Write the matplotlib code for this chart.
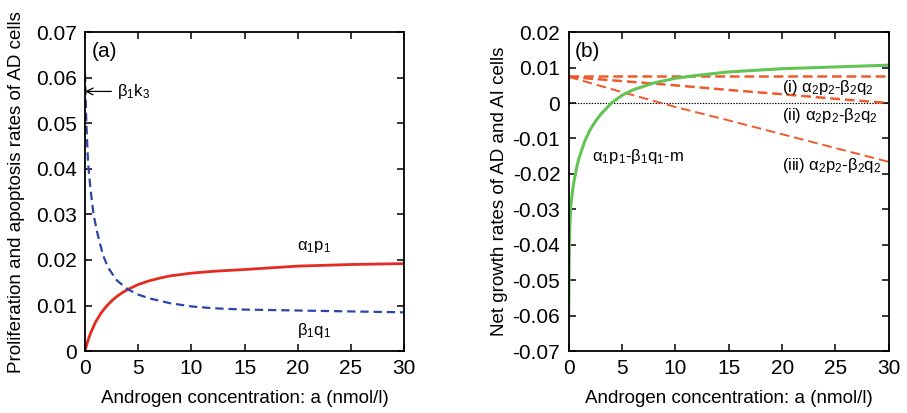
import matplotlib
matplotlib.use("Agg")
import matplotlib.pyplot as plt

plt.rcParams["font.family"] = ["Liberation Sans", "DejaVu Sans"]
plt.rcParams["mathtext.fontset"] = "custom"
plt.rcParams["mathtext.rm"] = "Liberation Sans"
plt.rcParams["mathtext.it"] = "Liberation Sans"
plt.rcParams["mathtext.default"] = "regular"
plt.rcParams["lines.scale_dashes"] = False

# panel (a): proliferation and apoptosis rates of AD cells
a_red = [0, 0.25, 0.5, 1, 1.5, 2, 2.5, 3, 3.5, 4, 5, 6, 7, 8, 10, 12, 15,
         20, 25, 30]
prolif = [0, 0.0021, 0.0038, 0.0064, 0.0083, 0.0098, 0.0110, 0.0120, 0.0128,
          0.0135, 0.0146, 0.0154, 0.0160, 0.0165, 0.0171, 0.0175, 0.0179,
          0.01865, 0.0190, 0.0192]
a_blue = [0, 0.05, 0.1, 0.2, 0.3, 0.5, 0.8, 1.2, 1.7, 2.2, 3, 4, 5, 6, 8, 10,
          12, 15, 20, 25, 30]
apopt = [0.061, 0.057, 0.052, 0.046, 0.041, 0.036, 0.030, 0.0255, 0.0210,
         0.0182, 0.0155, 0.0136, 0.0124, 0.0116, 0.0105, 0.0098, 0.0094,
         0.0091, 0.0089, 0.0087, 0.0085]

# panel (b): net growth rates of AD and AI cells
a_green = [0, 0.03, 0.06, 0.1, 0.2, 0.35, 0.5, 0.8, 1, 1.5, 2, 2.5, 3, 4, 5,
           6, 8, 10, 12, 15, 20, 25, 30]
net_ad = [-0.0605, -0.050, -0.041, -0.035, -0.029, -0.025, -0.022, -0.0175,
          -0.0152, -0.0108, -0.0076, -0.0052, -0.0032, 0.0000, 0.0022,
          0.0037, 0.0057, 0.0070, 0.0078, 0.0088, 0.0097, 0.0102, 0.0107]
a_ai = [0, 5, 10, 15, 20, 25, 30]
net_ai_1 = [0.0075, 0.0075, 0.0075, 0.0075, 0.0075, 0.0075, 0.0075]
net_ai_2 = [0.0074, 0.0062, 0.0050, 0.0037, 0.0025, 0.0012, 0.0]
net_ai_3 = [0.0074, 0.0031, -0.0011, -0.0049, -0.0088, -0.0127, -0.0166]

RED = "#e32b22"
BLUE = "#2b45a8"
GREEN = "#62c453"
ORANGE = "#ef5a2c"

fig = plt.figure(figsize=(9.07, 4.13), dpi=100)
ax1 = fig.add_axes([0.0937, 0.150, 0.352, 0.772])
ax2 = fig.add_axes([0.627, 0.150, 0.353, 0.772])

for ax in (ax1, ax2):
    ax.set_xlim(0, 30)
    ax.set_xticks(range(0, 31, 5))
    ax.tick_params(direction="in", top=True, right=True, length=5, width=1.1,
                   labelsize=15, pad=6)
    for s in ax.spines.values():
        s.set_linewidth(1.3)
    ax.set_xlabel("Androgen concentration: a (nmol/l)", fontsize=13.5, va="center")
    ax.xaxis.set_label_coords(0.5, -0.148)

# (a)
ax1.plot(a_red, prolif, color=RED, lw=2.0)
ax1.plot(a_blue, apopt, color=BLUE, lw=1.6, dashes=(6, 3.5))
ax1.set_ylim(0, 0.07)
ax1.set_yticks([0, 0.01, 0.02, 0.03, 0.04, 0.05, 0.06, 0.07])
ax1.set_yticklabels(["0", "0.01", "0.02", "0.03", "0.04", "0.05", "0.06", "0.07"])
ax1.set_ylabel("Proliferation and apoptosis rates of AD cells", fontsize=13.5,
               va="center")
ax1.yaxis.set_label_coords(-0.216, 0.5)
ax1.text(0.02, 0.97, "(a)", transform=ax1.transAxes, fontsize=15, va="top")
ax1.annotate(r"$\beta_1k_3$", xy=(0, 0.057), xytext=(3.0, 0.057),
             fontsize=12, va="center",
             arrowprops=dict(arrowstyle="->", color="black", lw=0.9,
                             shrinkA=2, shrinkB=0))
ax1.text(21.5, 0.0228, r"$\alpha_1p_1$", fontsize=12, ha="center", va="center")
ax1.text(21.5, 0.0046, r"$\beta_1q_1$", fontsize=12, ha="center", va="center")

# (b)
ax2.axhline(0, color="black", lw=0.8, ls=(0, (1, 1)))
ax2.plot(a_ai, net_ai_1, color=ORANGE, lw=1.8, dashes=(7, 3.5))
ax2.plot(a_ai, net_ai_2, color=ORANGE, lw=1.8, dashes=(7, 3.5))
ax2.plot(a_ai, net_ai_3, color=ORANGE, lw=1.4, dashes=(7, 3.5))
ax2.plot(a_green, net_ad, color=GREEN, lw=2.2)
ax2.set_ylim(-0.07, 0.02)
yt = [-0.07, -0.06, -0.05, -0.04, -0.03, -0.02, -0.01, 0, 0.01, 0.02]
ax2.set_yticks(yt)
ax2.set_yticklabels(["-0.07", "-0.06", "-0.05", "-0.04", "-0.03", "-0.02",
                     "-0.01", "0", "0.01", "0.02"])
ax2.set_ylabel("Net growth rates of AD and AI cells", fontsize=13.5, va="center")
ax2.yaxis.set_label_coords(-0.216, 0.5)
ax2.text(0.02, 0.97, "(b)", transform=ax2.transAxes, fontsize=15, va="top")
ax2.text(2.2, -0.015, r"$\alpha_1p_1$-$\beta_1q_1$-m", fontsize=12, va="center")
ax2.text(20.0, 0.0045, r"(i) $\alpha_2p_2$-$\beta_2q_2$", fontsize=12, va="center")
ax2.text(20.0, -0.0036, r"(ii) $\alpha_2p_2$-$\beta_2q_2$", fontsize=12, va="center")
ax2.text(20.0, -0.0175, r"(iii) $\alpha_2p_2$-$\beta_2q_2$", fontsize=12, va="center")

fig.savefig("out.png", dpi=100)
